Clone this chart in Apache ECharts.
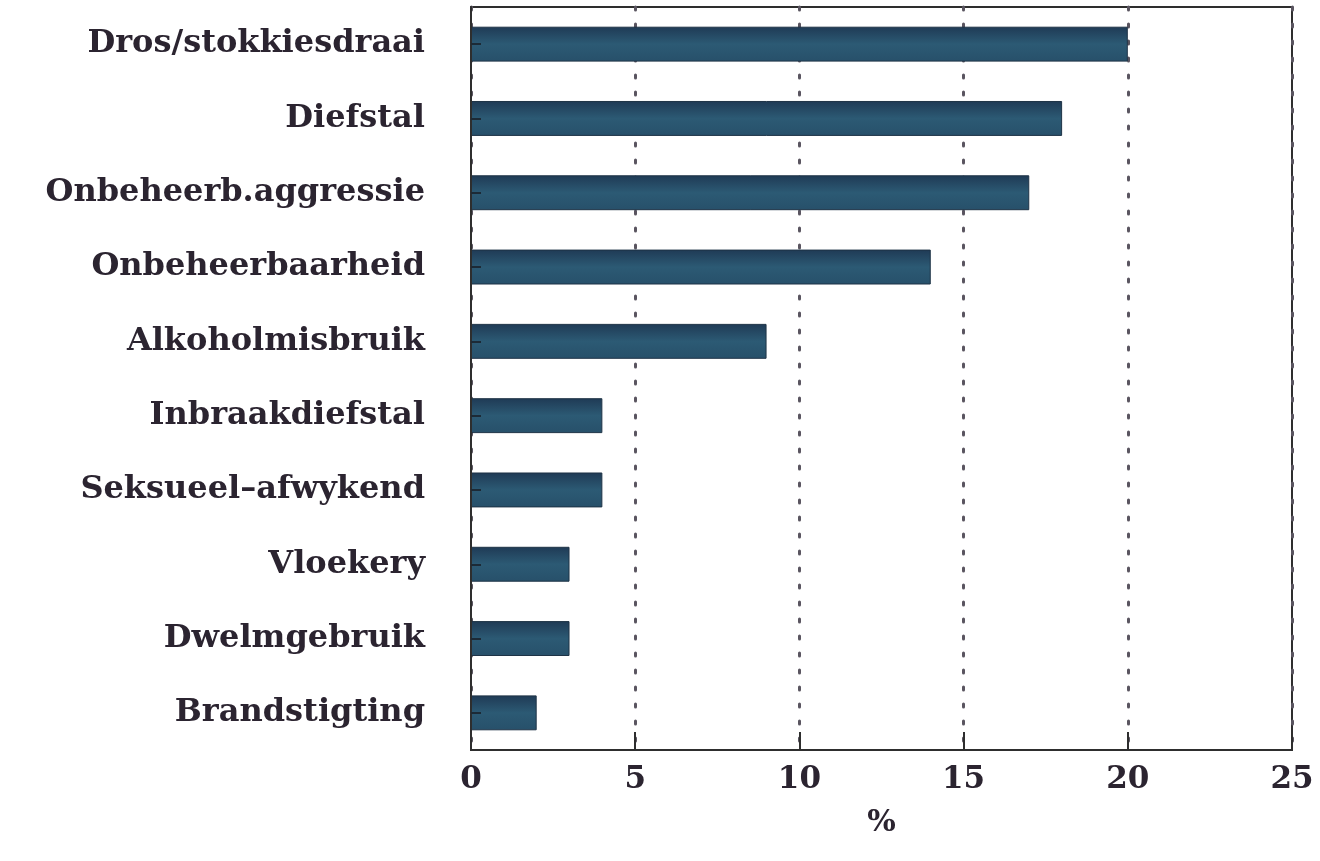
<!DOCTYPE html>
<html>
<head>
<meta charset="utf-8">
<script src="https://cdn.jsdelivr.net/npm/echarts@6/dist/echarts.min.js"></script>
<style>
  html, body { margin: 0; padding: 0; background: #fff; }
  #main { width: 1320px; height: 861px; }
</style>
</head>
<body>
<div id="main"></div>
<script>
// categories bottom -> top (category axis draws first item at bottom)
var categories = [
  "Brandstigting", "Dwelmgebruik", "Vloekery", "Seksueel\u2013afwykend",
  "Inbraakdiefstal", "Alkoholmisbruik", "Onbeheerbaarheid",
  "Onbeheerb.aggressie", "Diefstal", "Dros/stokkiesdraai"
];
var percentages = [2, 3, 3, 4, 4, 9, 14, 17, 18, 20];
var xTicks = [0, 5, 10, 15, 20, 25];

var fontFam = "'DejaVu Serif', serif";
var ink = "#2b2430";

var chart = echarts.init(document.getElementById("main"));
chart.setOption({
  backgroundColor: "#fff",
  animation: false,
  grid: {
    left: 471, right: 28, top: 7, bottom: 111,
    show: true, borderColor: "#2e2e2e", borderWidth: 2, backgroundColor: "transparent"
  },
  xAxis: {
    type: "value",
    min: xTicks[0],
    max: xTicks[xTicks.length - 1],
    interval: 5,
    name: "%",
    nameLocation: "middle",
    nameGap: 58,
    nameTextStyle: { fontFamily: fontFam, fontWeight: "bold", fontSize: 30, color: ink },
    axisLine: { show: true, lineStyle: { color: "#2e2e2e", width: 2 } },
    axisTick: { show: true, inside: true, length: 18, lineStyle: { color: "#2e2e2e", width: 2 } },
    axisLabel: {
      margin: 14,
      fontFamily: fontFam, fontWeight: "bold", fontSize: 31, color: ink,
      formatter: function (v) { return xTicks.indexOf(v) >= 0 ? String(v) : ""; }
    },
    splitLine: {
      show: true,
      lineStyle: { color: "#5a5560", width: 3, type: [3, 14], cap: "round" }
    }
  },
  yAxis: {
    type: "category",
    data: categories,
    z: 5,
    axisLine: { show: true, lineStyle: { color: "#2e2e2e", width: 2 } },
    axisTick: { show: true, inside: true, alignWithLabel: true, length: 10, lineStyle: { color: "#1c2a36", width: 2 } },
    axisLabel: {
      margin: 46,
      fontFamily: fontFam, fontWeight: "bold", fontSize: 32, color: ink
    }
  },
  series: [{
    type: "bar",
    data: percentages,
    barWidth: "47%",
    z: 3,
    itemStyle: {
      borderColor: "#1e3346",
      borderWidth: 1,
      color: new echarts.graphic.LinearGradient(0, 0, 0, 1, [
        { offset: 0, color: "#1f3a55" },
        { offset: 0.5, color: "#2c5a74" },
        { offset: 1, color: "#27506a" }
      ])
    }
  }]
});
</script>
</body>
</html>
